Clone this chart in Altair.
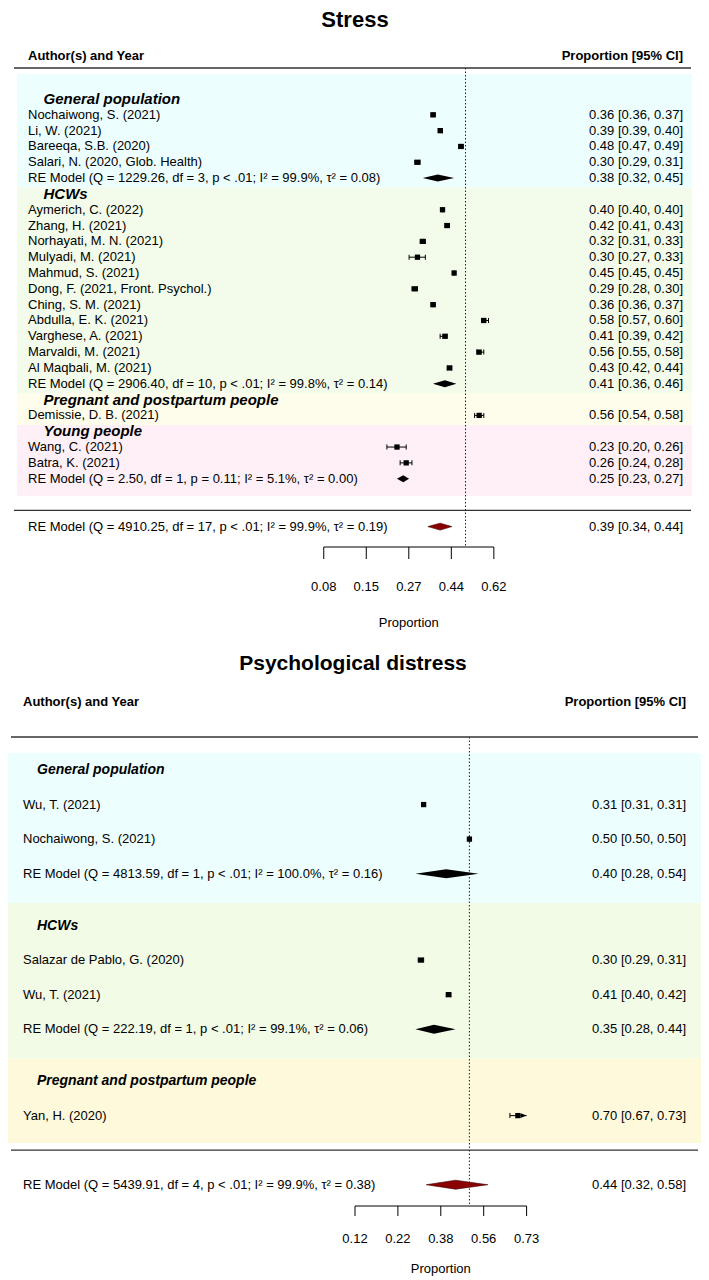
import altair as alt
import numpy as np
import pandas as pd

FONT = "Liberation Sans"

# ---------------------------------------------------------------- Stress data
stress_title = "Stress"
stress_group_names = ["General population", "HCWs", "Pregnant and postpartum people", "Young people"]
stress_group_colors = ["#EDFEFE", "#F3FCEA", "#FEFCEA", "#FEF0F6"]

stress_gp_labels = ["Nochaiwong, S. (2021)", "Li, W. (2021)", "Bareeqa, S.B. (2020)",
                    "Salari, N. (2020, Glob. Health)"]
stress_gp_est = [0.36, 0.39, 0.48, 0.30]
stress_gp_lo = [0.36, 0.39, 0.47, 0.29]
stress_gp_hi = [0.37, 0.40, 0.49, 0.31]
stress_gp_re_label = "RE Model (Q = 1229.26, df = 3, p < .01; I² = 99.9%, τ² = 0.08)"
stress_gp_re = [0.38, 0.32, 0.45]

stress_hcw_labels = ["Aymerich, C. (2022)", "Zhang, H. (2021)", "Norhayati, M. N. (2021)",
                     "Mulyadi, M. (2021)", "Mahmud, S. (2021)", "Dong, F. (2021, Front. Psychol.)",
                     "Ching, S. M. (2021)", "Abdulla, E. K. (2021)", "Varghese, A. (2021)",
                     "Marvaldi, M. (2021)", "Al Maqbali, M. (2021)"]
stress_hcw_est = [0.40, 0.42, 0.32, 0.30, 0.45, 0.29, 0.36, 0.58, 0.41, 0.56, 0.43]
stress_hcw_lo = [0.40, 0.41, 0.31, 0.27, 0.45, 0.28, 0.36, 0.57, 0.39, 0.55, 0.42]
stress_hcw_hi = [0.40, 0.43, 0.33, 0.33, 0.45, 0.30, 0.37, 0.60, 0.42, 0.58, 0.44]
stress_hcw_re_label = "RE Model (Q = 2906.40, df = 10, p < .01; I² = 99.8%, τ² = 0.14)"
stress_hcw_re = [0.41, 0.36, 0.46]

stress_preg_labels = ["Demissie, D. B. (2021)"]
stress_preg_est = [0.56]
stress_preg_lo = [0.54]
stress_preg_hi = [0.58]

stress_young_labels = ["Wang, C. (2021)", "Batra, K. (2021)"]
stress_young_est = [0.23, 0.26]
stress_young_lo = [0.20, 0.24]
stress_young_hi = [0.26, 0.28]
stress_young_re_label = "RE Model (Q = 2.50, df = 1, p = 0.11; I² = 5.1%, τ² = 0.00)"
stress_young_re = [0.25, 0.23, 0.27]

stress_overall_label = "RE Model (Q = 4910.25, df = 17, p < .01; I² = 99.9%, τ² = 0.19)"
stress_overall = [0.39, 0.34, 0.44]
stress_ticks = [-2.5, -1.75, -1.0, -0.25, 0.5]          # logit scale

# ------------------------------------------------ Psychological distress data
distress_title = "Psychological distress"
distress_group_names = ["General population", "HCWs", "Pregnant and postpartum people"]
distress_group_colors = ["#EDFEFE", "#F1FBE6", "#FEF9DB"]

distress_gp_labels = ["Wu, T. (2021)", "Nochaiwong, S. (2021)"]
distress_gp_est = [0.31, 0.50]
distress_gp_lo = [0.31, 0.50]
distress_gp_hi = [0.31, 0.50]
distress_gp_re_label = "RE Model (Q = 4813.59, df = 1, p < .01; I² = 100.0%, τ² = 0.16)"
distress_gp_re = [0.40, 0.28, 0.54]

distress_hcw_labels = ["Salazar de Pablo, G. (2020)", "Wu, T. (2021)"]
distress_hcw_est = [0.30, 0.41]
distress_hcw_lo = [0.29, 0.40]
distress_hcw_hi = [0.31, 0.42]
distress_hcw_re_label = "RE Model (Q = 222.19, df = 1, p < .01; I² = 99.1%, τ² = 0.06)"
distress_hcw_re = [0.35, 0.28, 0.44]

distress_preg_labels = ["Yan, H. (2020)"]
distress_preg_est = [0.70]
distress_preg_lo = [0.67]
distress_preg_hi = [0.732]

distress_overall_label = "RE Model (Q = 5439.91, df = 4, p < .01; I² = 99.9%, τ² = 0.38)"
distress_overall = [0.44, 0.32, 0.58]
distress_ticks = [-2.0, -1.25, -0.5, 0.25, 1.0]          # logit scale

reference_proportion = 0.5

# ----------------------------------------------------------------- layout
stress_layout = dict(
    W=693, H=632, ref_px=457.5, ppu=56.7, row0_px=91, row_h=15.82,
    group_gap=1.0, bg_pad_top=1.58, bg_pad_bottom=1.1, line_gap=2.0, overall_gap=3.03,
    bg_x=(9, 684), sep_x=(6, 683), label_x=20, head_x=35.5, ci_x=675, title_x=347,
    title_y=2, title_size=22, title_baseline="top",
    header_y=48, topline_y=60, axis_y=539, tick_len=12, ticklab_y=579, xlab_y=615,
    head_size=15, square=28, diamond_h=0.22, cap=5,
)
distress_layout = dict(
    W=693, H=632, ref_px=461.4, ppu=57.2, row0_px=130, row_h=34.56,
    group_gap=1.5, bg_pad_top=0.49, bg_pad_bottom=0.79, line_gap=1.0, overall_gap=2.0,
    bg_x=(0, 693), sep_x=(3, 690), label_x=15, head_x=29, ci_x=678, title_x=345,
    title_y=30, title_size=21, title_baseline="alphabetic",
    header_y=62, topline_y=97, axis_y=566, tick_len=10, ticklab_y=599, xlab_y=629,
    head_size=14, square=28, diamond_h=0.13, cap=5,
)


def logit(p):
    p = np.asarray(p, dtype=float)
    return np.log(p / (1 - p))


def fmt_ci(e, lo, hi):
    return f"{e:.2f} [{lo:.2f}, {hi:.2f}]"


def build_panel(title, groups, overall_label, overall, ticks, L):
    xs = alt.Scale(domain=[-L["ref_px"] / L["ppu"], (L["W"] - L["ref_px"]) / L["ppu"]],
                   nice=False, zero=False)
    ys = alt.Scale(domain=[-L["row0_px"] / L["row_h"], (L["H"] - L["row0_px"]) / L["row_h"]],
                   nice=False, zero=False, reverse=True)
    amin, amax = min(ticks), max(ticks)

    heads, studies, sums, bgs = [], [], [], []
    k, last = 0.0, None
    for gi, g in enumerate(groups):
        if gi > 0:
            k = last + L["group_gap"]
            edge = (last + k) / 2 + 0.1
            bgs[-1]["k1"] = edge
            bgs.append(dict(k0=edge, fill=g["color"]))
        else:
            bgs.append(dict(k0=k - L["bg_pad_top"], fill=g["color"]))
        heads.append(dict(k=k, text=g["name"]))
        for lab, e, lo, hi in zip(g["labels"], g["est"], g["lo"], g["hi"]):
            k += 1
            studies.append(dict(k=k, text=lab, est=e, lo=lo, hi=hi))
        if g.get("re_label"):
            k += 1
            e, lo, hi = g["re"]
            sums.append(dict(k=k, text=g["re_label"], est=e, lo=lo, hi=hi, kind="group"))
        last = k
    bgs[-1]["k1"] = last + L["bg_pad_bottom"]
    line_k = last + L["line_gap"]
    e, lo, hi = overall
    sums.append(dict(k=last + L["overall_gap"], text=overall_label, est=e, lo=lo, hi=hi,
                     kind="overall"))

    st = pd.DataFrame(studies)
    st["l"] = logit(st["est"])
    st["lo_l"] = np.maximum(logit(st["lo"]), amin)
    raw_hi = logit(st["hi"])
    st["arrow"] = raw_hi > amax
    st["hi_l"] = np.minimum(raw_hi, amax)
    st["ci"] = [fmt_ci(a, b, c) for a, b, c in zip(st["est"], st["lo"], st["hi"])]

    sm = pd.DataFrame(sums)
    sm["ci"] = [fmt_ci(a, b, c) for a, b, c in zip(sm["est"], sm["lo"], sm["hi"])]

    caps = pd.concat([
        pd.DataFrame({"k": st["k"], "l": st["lo_l"]}),
        pd.DataFrame({"k": st.loc[~st["arrow"], "k"], "l": st.loc[~st["arrow"], "hi_l"]}),
    ])
    arrows = st.loc[st["arrow"], ["k", "hi_l"]]

    dia = []
    for i, r in sm.iterrows():
        h = L["diamond_h"]
        for p, hh in ((r["lo"], 0.0), (r["est"], h), (r["hi"], 0.0)):
            dia.append(dict(id=i, kind=r["kind"], l=float(logit(p)), y0=r["k"] - hh, y1=r["k"] + hh))
    dia = pd.DataFrame(dia)

    X = lambda f: alt.X(f, scale=xs, axis=None)
    Y = lambda f: alt.Y(f, scale=ys, axis=None)
    one = pd.DataFrame({"a": [0]})

    layers = []
    # backgrounds
    layers.append(alt.Chart(pd.DataFrame(bgs)).mark_rect().encode(
        x=alt.value(L["bg_x"][0]), x2=alt.value(L["bg_x"][1]),
        y=Y("k0:Q"), y2="k1:Q", color=alt.Color("fill:N", scale=None)))
    # separator lines
    layers.append(alt.Chart(one).mark_rule(color="#333333", strokeWidth=1.3).encode(
        x=alt.value(L["sep_x"][0]), x2=alt.value(L["sep_x"][1]), y=alt.value(L["topline_y"])))
    layers.append(alt.Chart(pd.DataFrame({"k": [line_k]})).mark_rule(
        color="#333333", strokeWidth=1.3).encode(
        x=alt.value(L["sep_x"][0]), x2=alt.value(L["sep_x"][1]), y=Y("k:Q")))
    # reference line
    layers.append(alt.Chart(pd.DataFrame({"l": [float(logit(reference_proportion))]})).mark_rule(
        color="#222222", strokeWidth=1, strokeDash=[1.5, 2]).encode(
        x=X("l:Q"), y=alt.value(L["topline_y"]), y2=alt.value(L["axis_y"])))
    # axis
    tk = pd.DataFrame({"l": ticks})
    tk["lab"] = [f"{1 / (1 + np.exp(-t)):.2f}" for t in ticks]
    layers.append(alt.Chart(pd.DataFrame({"a": [amin], "b": [amax]})).mark_rule(
        color="black", strokeWidth=1).encode(x=X("a:Q"), x2="b:Q", y=alt.value(L["axis_y"])))
    layers.append(alt.Chart(tk).mark_rule(color="black", strokeWidth=1).encode(
        x=X("l:Q"), y=alt.value(L["axis_y"]), y2=alt.value(L["axis_y"] + L["tick_len"])))
    layers.append(alt.Chart(tk).mark_text(font=FONT, fontSize=13, color="black",
                                          baseline="middle").encode(
        x=X("l:Q"), y=alt.value(L["ticklab_y"]), text="lab:N"))
    layers.append(alt.Chart(pd.DataFrame({"t": ["Proportion"], "l": [(amin + amax) / 2]})).mark_text(
        font=FONT, fontSize=13, color="black", baseline="middle").encode(
        x=X("l:Q"), y=alt.value(L["xlab_y"]), text="t:N"))
    # confidence intervals
    layers.append(alt.Chart(st).mark_rule(color="black", strokeWidth=1).encode(
        x=X("lo_l:Q"), x2="hi_l:Q", y=Y("k:Q")))
    layers.append(alt.Chart(caps).mark_tick(orient="vertical", size=L["cap"], thickness=1,
                                            color="black", opacity=1).encode(
        x=X("l:Q"), y=Y("k:Q")))
    layers.append(alt.Chart(st).mark_square(size=L["square"], color="black", opacity=1).encode(
        x=X("l:Q"), y=Y("k:Q")))
    if len(arrows):
        layers.append(alt.Chart(arrows).mark_point(
            shape="M-2,-0.8L0,0L-2,0.8Z", size=36, filled=True, color="black",
            opacity=1, strokeWidth=0).encode(x=X("hi_l:Q"), y=Y("k:Q")))
    # diamonds
    layers.append(alt.Chart(dia[dia["kind"] == "group"]).mark_area(
        orient="vertical", color="black", opacity=1).encode(
        x=X("l:Q"), y=alt.Y("y0:Q", scale=ys, axis=None, stack=None), y2="y1:Q",
        detail="id:N"))
    layers.append(alt.Chart(dia[dia["kind"] == "overall"]).mark_area(
        orient="vertical", color="#8B0000", opacity=1, stroke="#3a0000", strokeWidth=0.6).encode(
        x=X("l:Q"), y=alt.Y("y0:Q", scale=ys, axis=None, stack=None), y2="y1:Q",
        detail="id:N"))
    # texts
    layers.append(alt.Chart(pd.DataFrame(heads)).mark_text(
        font=FONT, fontSize=L["head_size"], fontWeight="bold", fontStyle="italic",
        align="left", baseline="middle", color="black").encode(
        x=alt.value(L["head_x"]), y=Y("k:Q"), text="text:N"))
    rows = pd.concat([st[["k", "text", "ci"]], sm[["k", "text", "ci"]]])
    layers.append(alt.Chart(rows).mark_text(
        font=FONT, fontSize=13, align="left", baseline="middle", color="black").encode(
        x=alt.value(L["label_x"]), y=Y("k:Q"), text="text:N"))
    layers.append(alt.Chart(rows).mark_text(
        font=FONT, fontSize=13, align="right", baseline="middle", color="black").encode(
        x=alt.value(L["ci_x"]), y=Y("k:Q"), text="ci:N"))
    layers.append(alt.Chart(pd.DataFrame({"t": ["Author(s) and Year"]})).mark_text(
        font=FONT, fontSize=13, fontWeight="bold", align="left", baseline="middle",
        color="black").encode(x=alt.value(L["label_x"]), y=alt.value(L["header_y"]), text="t:N"))
    layers.append(alt.Chart(pd.DataFrame({"t": ["Proportion [95% CI]"]})).mark_text(
        font=FONT, fontSize=13, fontWeight="bold", align="right", baseline="middle",
        color="black").encode(x=alt.value(L["ci_x"]), y=alt.value(L["header_y"]), text="t:N"))
    layers.append(alt.Chart(pd.DataFrame({"t": [title]})).mark_text(
        font=FONT, fontSize=L["title_size"], fontWeight="bold", align="center",
        baseline=L["title_baseline"], color="black").encode(
        x=alt.value(L["title_x"]), y=alt.value(L["title_y"]), text="t:N"))

    return alt.layer(*layers).properties(width=L["W"], height=L["H"])


def make_groups(names, colors, parts):
    out = []
    for name, color, p in zip(names, colors, parts):
        g = dict(name=name, color=color, labels=p[0], est=p[1], lo=p[2], hi=p[3])
        if len(p) > 4:
            g["re_label"], g["re"] = p[4], p[5]
        out.append(g)
    return out


stress_groups = make_groups(stress_group_names, stress_group_colors, [
    (stress_gp_labels, stress_gp_est, stress_gp_lo, stress_gp_hi, stress_gp_re_label, stress_gp_re),
    (stress_hcw_labels, stress_hcw_est, stress_hcw_lo, stress_hcw_hi, stress_hcw_re_label, stress_hcw_re),
    (stress_preg_labels, stress_preg_est, stress_preg_lo, stress_preg_hi),
    (stress_young_labels, stress_young_est, stress_young_lo, stress_young_hi,
     stress_young_re_label, stress_young_re),
])
distress_groups = make_groups(distress_group_names, distress_group_colors, [
    (distress_gp_labels, distress_gp_est, distress_gp_lo, distress_gp_hi,
     distress_gp_re_label, distress_gp_re),
    (distress_hcw_labels, distress_hcw_est, distress_hcw_lo, distress_hcw_hi,
     distress_hcw_re_label, distress_hcw_re),
    (distress_preg_labels, distress_preg_est, distress_preg_lo, distress_preg_hi),
])

top = build_panel(stress_title, stress_groups, stress_overall_label, stress_overall,
                  stress_ticks, stress_layout)
bottom = build_panel(distress_title, distress_groups, distress_overall_label, distress_overall,
                     distress_ticks, distress_layout)

chart = (alt.vconcat(top, bottom, spacing=0)
         .properties(padding=0, background="white")
         .configure_view(stroke=None))

chart.save("out.html", embed_options={"renderer": "svg", "actions": False})
